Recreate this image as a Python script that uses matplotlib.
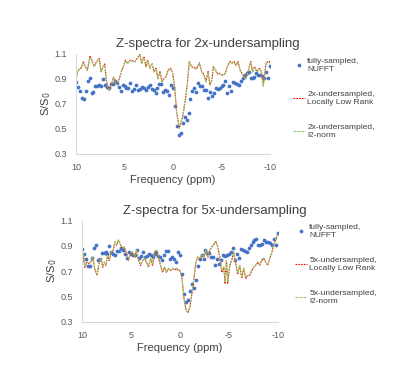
import numpy as np
import matplotlib
matplotlib.use("Agg")
import matplotlib.pyplot as plt

plt.rcParams['font.family'] = ['Liberation Sans', 'DejaVu Sans']

# fully-sampled NUFFT z-spectrum (same reference in both panels), 0.2 ppm steps 10 -> -10
freq = np.linspace(10, -10, 101)
nufft = [0.875, 0.835, 0.80, 0.745, 0.74, 0.805, 0.88, 0.905, 0.785, 0.795,
         0.845, 0.845, 0.85, 0.84, 0.90, 0.855, 0.835, 0.825, 0.86, 0.86,
         0.885, 0.865, 0.835, 0.805, 0.855, 0.84, 0.83, 0.825, 0.865, 0.805,
         0.82, 0.855, 0.81, 0.82, 0.835, 0.825, 0.815, 0.835, 0.85, 0.82,
         0.815, 0.785, 0.825, 0.86, 0.86, 0.795, 0.815, 0.80, 0.775, 0.855,
         0.83, 0.68, 0.52, 0.455, 0.47, 0.545, 0.595, 0.57, 0.63, 0.74,
         0.80, 0.83, 0.795, 0.87, 0.845, 0.845, 0.815, 0.815, 0.75, 0.795,
         0.76, 0.785, 0.83, 0.82, 0.83, 0.84, 0.855, 0.885, 0.79, 0.84,
         0.805, 0.875, 0.87, 0.86, 0.855, 0.88, 0.91, 0.93, 0.945, 0.955,
         0.91, 0.91, 0.915, 0.945, 0.93, 0.93, 0.925, 0.91, 0.955, 0.905, 1.0]

# 2x-undersampled reconstructions
x2_freq = [10.0, 9.86, 9.66, 9.45, 9.24, 9.04, 8.83, 8.56, 8.35, 8.14, 7.94, 7.73, 7.59,
           7.42, 7.25, 7.04, 6.87, 6.63, 6.32, 6.15, 5.98, 5.74, 5.53, 5.33, 5.12, 4.91,
           4.71, 4.43, 4.16, 3.92, 3.68, 3.40, 3.23, 2.99, 2.78, 2.61, 2.37, 2.16, 1.96,
           1.75, 1.55, 1.34, 1.13, 0.93, 0.72, 0.48, 0.24, 0.03, -0.17, -0.38, -0.65,
           -1.0, -1.27, -1.48, -1.68, -1.92, -2.16, -2.44, -2.71, -2.96, -3.20, -3.40,
           -3.61, -3.81, -4.02, -4.16, -4.36, -4.57, -4.78, -4.98, -5.19, -5.40, -5.60,
           -5.88, -6.08, -6.29, -6.49, -6.70, -6.91, -7.11, -7.32, -7.53, -7.73, -8.01,
           -8.21, -8.42, -8.63, -8.90, -9.11, -9.31, -9.59, -9.79, -10.0]
x2_llr = [0.88, 0.96, 0.98, 0.99, 1.04, 1.00, 0.97, 1.085, 1.05, 1.00, 1.03, 1.055, 1.065,
          0.96, 0.99, 1.02, 0.89, 0.805, 0.855, 0.915, 0.89, 0.855, 0.905, 0.96, 1.00, 1.05,
          1.025, 1.05, 1.045, 1.04, 1.065, 1.10, 1.025, 1.075, 1.00, 1.05, 0.985, 1.025, 0.96,
          0.985, 0.905, 0.96, 0.88, 0.905, 0.92, 0.975, 0.985, 0.945, 0.835, 0.63, 0.51,
          0.60, 0.735, 0.865, 1.04, 1.00, 0.99, 0.985, 1.03, 0.96, 0.935, 0.88,
          0.96, 0.855, 0.895, 1.00, 0.975, 0.945, 0.945, 0.935, 0.93, 0.95, 1.00,
          1.04, 1.03, 1.04, 1.01, 1.04, 0.975, 0.945, 0.92, 0.905, 0.96, 1.04,
          0.96, 1.00, 0.96, 0.985, 0.96, 0.85, 1.03, 1.04, 1.04]
x2_l2 = [0.87, 0.955, 0.975, 0.985, 1.035, 0.995, 0.965, 1.075, 1.045, 0.995, 1.025, 1.05, 1.06,
         0.955, 0.99, 1.015, 0.885, 0.80, 0.85, 0.92, 0.885, 0.85, 0.90, 0.955, 0.995, 1.045,
         1.02, 1.045, 1.04, 1.035, 1.06, 1.095, 1.02, 1.07, 0.995, 1.045, 0.98, 1.02, 0.955,
         0.98, 0.90, 0.955, 0.875, 0.90, 0.915, 0.97, 0.98, 0.94, 0.83, 0.625, 0.505,
         0.595, 0.73, 0.86, 1.035, 0.995, 0.985, 0.98, 1.025, 0.955, 0.93, 0.875,
         0.955, 0.85, 0.89, 0.995, 0.97, 0.94, 0.94, 0.93, 0.925, 0.945, 0.995,
         1.035, 1.025, 1.035, 1.005, 1.035, 0.97, 0.94, 0.915, 0.90, 0.955, 1.035,
         0.955, 0.995, 0.955, 0.98, 0.955, 0.84, 1.02, 1.03, 1.03]

# 5x-undersampled reconstructions
x5_freq = [10.0, 9.86, 9.69, 9.52, 9.32, 9.12, 8.91, 8.71, 8.47, 8.27, 8.06, 7.89, 7.73,
           7.56, 7.39, 7.22, 7.01, 6.81, 6.64, 6.47, 6.27, 6.06, 5.86, 5.66, 5.45, 5.25,
           5.04, 4.84, 4.63, 4.43, 4.23, 4.02, 3.82, 3.62, 3.41, 3.21, 3.0, 2.8, 2.6, 2.4,
           2.19, 1.99, 1.78, 1.58, 1.38, 1.17, 0.97, 0.76, 0.56, 0.36, 0.15, 0.02, -0.19,
           -0.39, -0.6, -0.8, -1.01, -1.21, -1.42, -1.62, -1.82, -2.02, -2.22, -2.43,
           -2.63, -2.84, -3.04, -3.24, -3.45, -3.65, -3.86, -4.06, -4.26, -4.47, -4.6,
           -4.74, -4.87, -5.08, -5.28, -5.48, -5.69, -5.89, -6.09, -6.3, -6.5, -6.71,
           -6.91, -7.11, -7.32, -7.52, -7.72, -7.93, -8.13, -8.34, -8.54, -8.74, -8.95,
           -9.15, -9.35, -9.56, -9.76, -10.0]
x5_llr = [0.69, 0.835, 0.73, 0.77, 0.76, 0.77, 0.81, 0.72, 0.665, 0.76, 0.80, 0.73, 0.77,
          0.745, 0.825, 0.785, 0.85, 0.865, 0.93, 0.905, 0.945, 0.905, 0.88, 0.89, 0.84, 0.785,
          0.84, 0.85, 0.81, 0.865, 0.785, 0.745, 0.785, 0.80, 0.77, 0.73, 0.80, 0.745, 0.85, 0.865,
          0.81, 0.745, 0.69, 0.73, 0.69, 0.72, 0.705, 0.72, 0.71, 0.72, 0.705, 0.705, 0.65,
          0.49, 0.40, 0.37, 0.415, 0.52, 0.64, 0.77, 0.81, 0.795, 0.825, 0.81,
          0.865, 0.81, 0.865, 0.89, 0.91, 0.935, 0.89, 0.81, 0.69, 0.73, 0.60,
          0.785, 0.605, 0.745, 0.785, 0.85, 0.76, 0.675, 0.745, 0.645, 0.72, 0.64,
          0.665, 0.665, 0.705, 0.73, 0.745, 0.77, 0.745, 0.785, 0.80, 0.77, 0.745,
          0.80, 0.84, 0.905, 0.945, 1.0]
x5_l2 = [0.70, 0.84, 0.74, 0.775, 0.765, 0.775, 0.815, 0.725, 0.675, 0.765, 0.805, 0.735, 0.775,
         0.75, 0.83, 0.79, 0.855, 0.87, 0.935, 0.91, 0.95, 0.91, 0.885, 0.895, 0.845, 0.79,
         0.845, 0.855, 0.815, 0.87, 0.79, 0.75, 0.79, 0.805, 0.775, 0.735, 0.805, 0.75, 0.855, 0.87,
         0.815, 0.75, 0.695, 0.735, 0.695, 0.725, 0.71, 0.725, 0.715, 0.725, 0.71, 0.71, 0.655,
         0.495, 0.405, 0.375, 0.42, 0.525, 0.645, 0.775, 0.815, 0.80, 0.83, 0.815,
         0.87, 0.815, 0.87, 0.895, 0.915, 0.94, 0.895, 0.815, 0.70, 0.735, 0.615,
         0.79, 0.62, 0.75, 0.79, 0.855, 0.765, 0.685, 0.75, 0.655, 0.725, 0.65,
         0.67, 0.67, 0.71, 0.735, 0.75, 0.775, 0.75, 0.79, 0.805, 0.775, 0.75,
         0.805, 0.845, 0.91, 0.95, 1.0]

yticks = [0.3, 0.5, 0.7, 0.9, 1.1]
xticks = [10, 5, 0, -5, -10]

fig = plt.figure(figsize=(4, 3.69), dpi=100)

# rect, title, label tag, line x, LLR, l2, legend anchor
panels = [
    ([0.19, 0.5827, 0.485, 0.271], "Z-spectra for 2x-undersampling", "2x",
     x2_freq, x2_llr, x2_l2, (1.119, 0.96)),
    ([0.205, 0.128, 0.49, 0.274], "Z-spectra for 5x-undersampling", "5x",
     x5_freq, x5_llr, x5_l2, (1.087, 0.965)),
]

for rect, title, tag, lf, llr, l2, anchor in panels:
    ax = fig.add_axes(rect)
    ax.plot(freq, nufft, 'o', color='#4472C4', ms=2.7, mew=0, label='fully-sampled,\nNUFFT')
    ax.plot(lf, llr, '--', color='#FF0000', lw=0.8, dashes=(1.5, 1),
            label=tag + '-undersampled,\nLocally Low Rank')
    ax.plot(lf, l2, '--', color='#96C865', lw=0.8, dashes=(2.5, 1),
            label=tag + '-undersampled,\nl2-norm')
    ax.set_xlim(10, -10)
    ax.set_ylim(0.3, 1.1)
    ax.set_xticks(xticks)
    ax.set_xticklabels([str(t) for t in xticks])
    ax.set_yticks(yticks)
    ax.set_yticklabels(['%.1f' % t for t in yticks])
    ax.tick_params(length=0, labelsize=6.5, colors='#595959', pad=6.5)
    for s in ['top', 'right']:
        ax.spines[s].set_visible(False)
    for s in ['left', 'bottom']:
        ax.spines[s].set_color('#D9D9D9')
        ax.spines[s].set_linewidth(0.8)
    ax.set_xlabel('Frequency (ppm)', fontsize=8, color='#404040', labelpad=2.5)
    ax.set_ylabel('S/S$_0$', fontsize=8, color='#404040', labelpad=1)
    ax.set_title(title, fontsize=9.5, color='#404040', pad=5, x=0.68)
    ax.legend(loc='upper left', bbox_to_anchor=anchor, frameon=False, fontsize=6,
              borderaxespad=0, borderpad=0, labelspacing=2.15, handlelength=1.45,
              handletextpad=0.25, labelcolor='#404040')

fig.savefig('out.png', dpi=100)
